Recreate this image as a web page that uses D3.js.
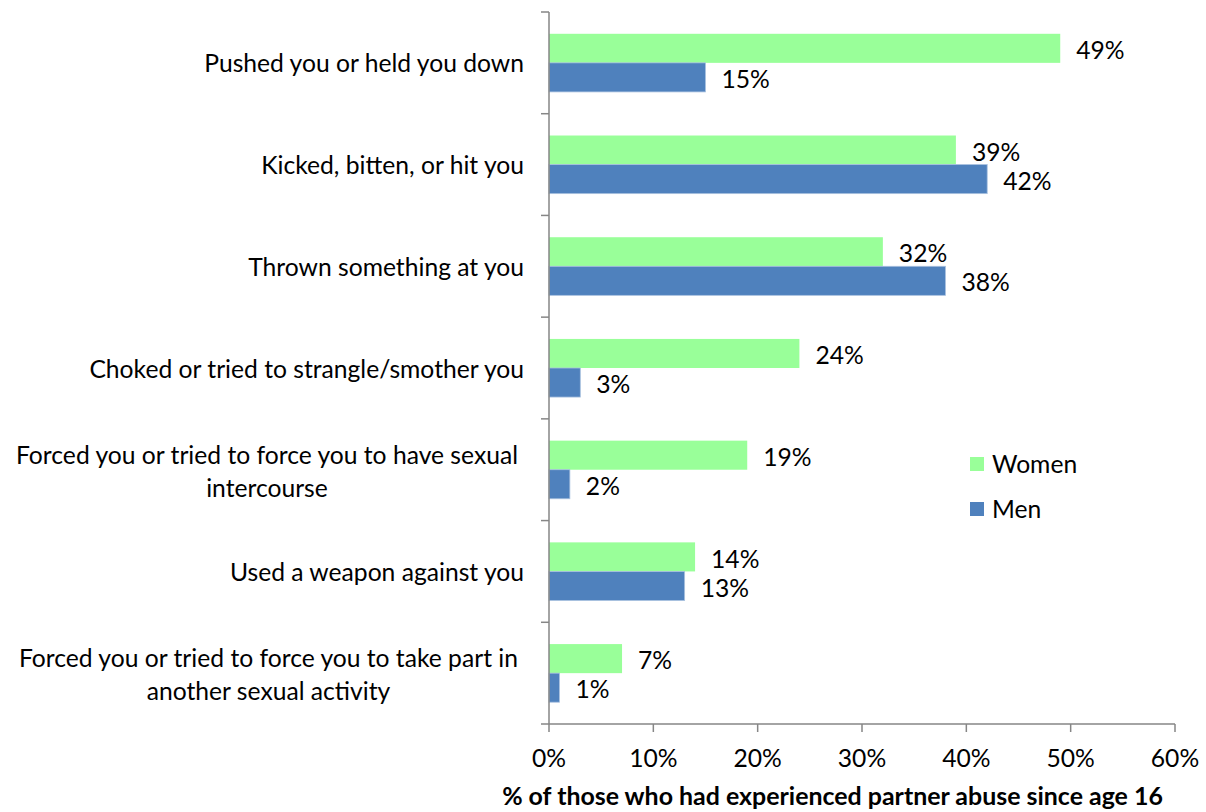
<!DOCTYPE html>
<html>
<head>
<meta charset="utf-8">
<script src="https://cdn.jsdelivr.net/npm/d3@7"></script>
<style>
  html, body { margin: 0; padding: 0; background: #fff; }
  svg { display: block; }
</style>
</head>
<body>
<svg id="chart" width="1206" height="812"></svg>
<script>
// ---- data ----
const categories = [
  ["Pushed you or held you down"],
  ["Kicked, bitten, or hit you"],
  ["Thrown something at you"],
  ["Choked or tried to strangle/smother you"],
  ["Forced you or tried to force you to have sexual", "intercourse"],
  ["Used a weapon against you"],
  ["Forced you or tried to force you to take part in", "another sexual activity"]
];
const seriesNames = ["Women", "Men"];
const womenValues = [49, 39, 32, 24, 19, 14, 7];
const menValues = [15, 42, 38, 3, 2, 13, 1];
const xTicks = [0, 10, 20, 30, 40, 50, 60];
const xTitle = "% of those who had experienced partner abuse since age 16";

// ---- layout ----
const W = 1206, H = 812;
const plot = { left: 549, right: 1175, top: 12, bottom: 724 };
const colors = { Women: "#99FF99", Men: "#4F81BD" };
const axisColor = "#868686";
const FONT = "Lato, 'Open Sans', sans-serif";

const svg = d3.select("#chart");

// fit font size so that text widths match the reference
function fitSize(text, targetWidth, weight) {
  const t = svg.append("text").attr("font-family", FONT).attr("font-size", 100)
    .attr("font-weight", weight || "normal").text(text);
  const w = t.node().getComputedTextLength();
  t.remove();
  return 100 * targetWidth / w;
}
const fs = fitSize("Pushed you or held you down", 320);
const fsBold = fitSize(xTitle, 661, "bold");

const x = d3.scaleLinear().domain([0, 60]).range([plot.left, plot.right]);
const catIdx = categories.map((d, i) => i);
const y = d3.scaleBand().domain(catIdx).range([plot.top, plot.bottom]).paddingInner(0).paddingOuter(0);
const ySub = d3.scaleBand().domain(seriesNames).range([0, y.bandwidth()]).paddingInner(0).paddingOuter(0.75);

const data = catIdx.map(i => ({ i, Women: womenValues[i], Men: menValues[i] }));

// bars
const groups = svg.append("g").selectAll("g").data(data).join("g")
  .attr("transform", d => `translate(0,${y(d.i)})`);

seriesNames.forEach(s => {
  groups.append("rect")
    .attr("x", x(0))
    .attr("y", ySub(s))
    .attr("width", d => x(d[s]) - x(0))
    .attr("height", ySub.bandwidth())
    .attr("fill", colors[s])
    .attr("stroke", s === "Men" ? "#a9c1df" : "none")
    .attr("stroke-width", s === "Men" ? 0.8 : 0);
  groups.append("text")
    .attr("x", d => x(d[s]) + 16)
    .attr("y", ySub(s) + ySub.bandwidth() / 2 + 2)
    .attr("dy", "0.35em")
    .attr("font-family", FONT)
    .attr("font-size", fs)
    .attr("fill", "#000")
    .text(d => d[s] + "%");
});

// y axis
const yAxisG = svg.append("g");
yAxisG.append("line").attr("x1", plot.left).attr("x2", plot.left)
  .attr("y1", plot.top).attr("y2", plot.bottom)
  .attr("stroke", axisColor).attr("stroke-width", 1.5);
const yTickPos = catIdx.map(i => y(i)).concat([plot.bottom]);
yAxisG.selectAll("line.t").data(yTickPos).join("line").attr("class", "t")
  .attr("x1", plot.left - 8).attr("x2", plot.left)
  .attr("y1", d => d).attr("y2", d => d)
  .attr("stroke", axisColor).attr("stroke-width", 1.5);

// category labels
const labelRight = 524;
categories.forEach((lines, i) => {
  const cy = y(i) + y.bandwidth() / 2;
  if (lines.length === 1) {
    svg.append("text")
      .attr("x", labelRight).attr("y", cy + 1).attr("dy", "0.35em")
      .attr("text-anchor", "end")
      .attr("font-family", FONT).attr("font-size", fs).attr("fill", "#000")
      .text(lines[0]);
  } else {
    const lh = 33;
    const t0 = svg.append("text").attr("font-family", FONT).attr("font-size", fs).text(lines[0]);
    const w0 = t0.node().getComputedTextLength();
    t0.remove();
    const cx = 518 - w0 / 2;
    lines.forEach((ln, k) => {
      svg.append("text")
        .attr("x", cx).attr("y", cy + 2 + (k - (lines.length - 1) / 2) * lh).attr("dy", "0.35em")
        .attr("text-anchor", "middle")
        .attr("font-family", FONT).attr("font-size", fs).attr("fill", "#000")
        .text(ln);
    });
  }
});

// x axis
const xAxisG = svg.append("g");
xAxisG.append("line").attr("x1", plot.left).attr("x2", plot.right)
  .attr("y1", plot.bottom).attr("y2", plot.bottom)
  .attr("stroke", axisColor).attr("stroke-width", 1.5);
xAxisG.selectAll("line.t").data(xTicks).join("line").attr("class", "t")
  .attr("x1", d => x(d)).attr("x2", d => x(d))
  .attr("y1", plot.bottom).attr("y2", plot.bottom + 8)
  .attr("stroke", axisColor).attr("stroke-width", 1.5);
xAxisG.selectAll("text").data(xTicks).join("text")
  .attr("x", d => x(d)).attr("y", 767)
  .attr("text-anchor", "middle")
  .attr("font-family", FONT).attr("font-size", fs).attr("fill", "#000")
  .text(d => d + "%");

// x title
svg.append("text")
  .attr("x", 832.5).attr("y", 805)
  .attr("text-anchor", "middle")
  .attr("font-family", FONT).attr("font-size", fsBold).attr("font-weight", "bold").attr("fill", "#000")
  .text(xTitle);

// legend
const legend = svg.append("g").attr("transform", "translate(970,457)");
seriesNames.forEach((s, k) => {
  const g = legend.append("g").attr("transform", `translate(0,${k * 45})`);
  g.append("rect").attr("x", 0).attr("y", 0).attr("width", 14).attr("height", 14).attr("fill", colors[s]);
  g.append("text").attr("x", 22).attr("y", 7).attr("dy", "0.35em")
    .attr("font-family", FONT).attr("font-size", fs).attr("fill", "#000").text(s);
});
</script>
</body>
</html>
